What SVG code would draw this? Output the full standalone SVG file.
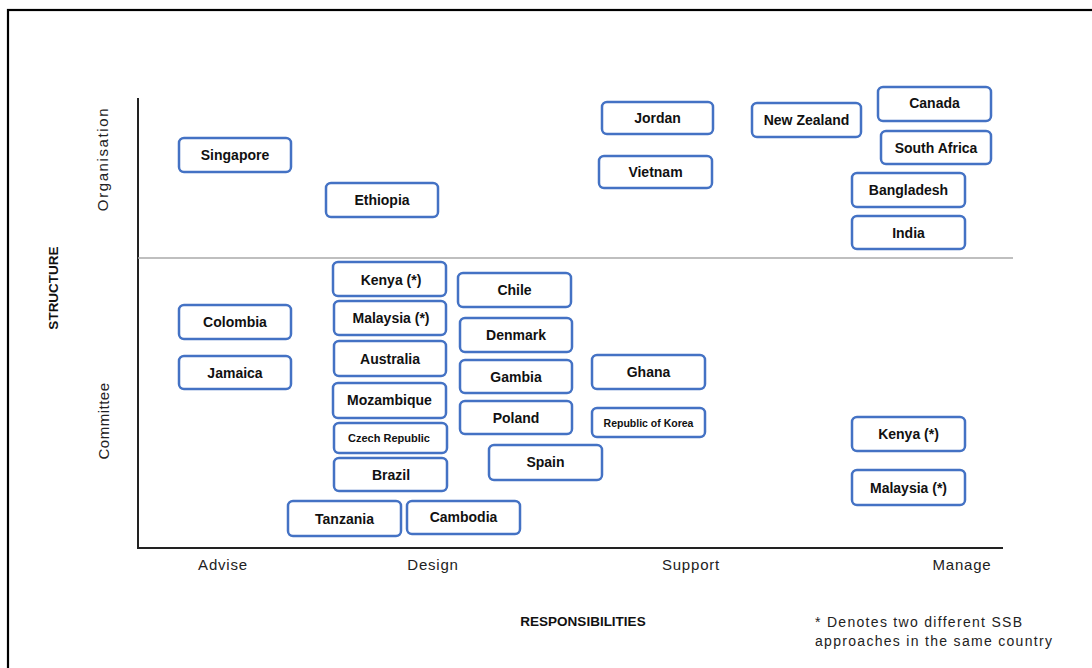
<svg xmlns="http://www.w3.org/2000/svg" width="1092" height="668" viewBox="0 0 1092 668">
<style>
.bx rect{fill:#fff;stroke:#4472C4;stroke-width:2.5}
.bx text{font-family:"Liberation Sans",Arial,sans-serif;font-weight:bold;font-size:14px;fill:#111;text-anchor:middle;dominant-baseline:central}
.bx text.sm{font-size:10.5px}
.ax{font-family:"Liberation Sans",Arial,sans-serif;font-size:15px;fill:#222;letter-spacing:0.8px}
.ttl{font-family:"Liberation Sans",Arial,sans-serif;font-weight:bold;font-size:13.5px;fill:#111}
.note{font-family:"Liberation Sans",Arial,sans-serif;font-size:14px;fill:#222;letter-spacing:1.3px}
</style>
<rect x="0" y="0" width="1092" height="668" fill="#fff"/>
<rect x="8" y="10" width="1110" height="700" fill="none" stroke="#000" stroke-width="2.2"/>
<g id="axes">
<line x1="138" y1="98" x2="138" y2="548" stroke="#222" stroke-width="2"/>
<line x1="137" y1="548" x2="1003" y2="548" stroke="#222" stroke-width="2"/>
<line x1="138" y1="258" x2="1013" y2="258" stroke="#aaa" stroke-width="1.3"/>
</g>
<g id="labels">
<text class="ax" transform="translate(108,159) rotate(-90)" text-anchor="middle" style="letter-spacing:1.6px">Organisation</text>
<text class="ax" transform="translate(109,421) rotate(-90)" text-anchor="middle" style="letter-spacing:0.5px">Committee</text>
<text class="ttl" transform="translate(58,288) rotate(-90)" text-anchor="middle">STRUCTURE</text>
<text class="ax" x="223" y="570" text-anchor="middle">Advise</text>
<text class="ax" x="433" y="570" text-anchor="middle">Design</text>
<text class="ax" x="691" y="570" text-anchor="middle">Support</text>
<text class="ax" x="962" y="570" text-anchor="middle">Manage</text>
<text class="ttl" x="583" y="626" text-anchor="middle">RESPONSIBILITIES</text>
<text class="note" x="815" y="627">* Denotes two different SSB</text>
<text class="note" x="815" y="646">approaches in the same country</text>
</g>
<g id="connectors"></g>
<g id="n-singapore" class="bx"><rect x="179" y="138" width="112" height="34" rx="5"/><text x="235" y="155">Singapore</text></g>
<g id="n-ethiopia" class="bx"><rect x="326" y="183" width="112" height="34" rx="5"/><text x="382" y="200">Ethiopia</text></g>
<g id="n-jordan" class="bx"><rect x="602" y="102" width="111" height="32" rx="5"/><text x="657.5" y="118">Jordan</text></g>
<g id="n-vietnam" class="bx"><rect x="599" y="156" width="113" height="32" rx="5"/><text x="655.5" y="172">Vietnam</text></g>
<g id="n-newzealand" class="bx"><rect x="752" y="103" width="109" height="34" rx="5"/><text x="806.5" y="120">New Zealand</text></g>
<g id="n-canada" class="bx"><rect x="878" y="87" width="113" height="34" rx="5"/><text x="934.5" y="103">Canada</text></g>
<g id="n-southafrica" class="bx"><rect x="881" y="131" width="110" height="33" rx="5"/><text x="936" y="148">South Africa</text></g>
<g id="n-bangladesh" class="bx"><rect x="852" y="173" width="113" height="34" rx="5"/><text x="908.5" y="190">Bangladesh</text></g>
<g id="n-india" class="bx"><rect x="852" y="216" width="113" height="33" rx="5"/><text x="908.5" y="233">India</text></g>
<g id="n-colombia" class="bx"><rect x="179" y="305" width="112" height="34" rx="5"/><text x="235" y="322">Colombia</text></g>
<g id="n-jamaica" class="bx"><rect x="179" y="356" width="112" height="33" rx="5"/><text x="235" y="372.5">Jamaica</text></g>
<g id="n-kenya1" class="bx"><rect x="333" y="262" width="113" height="34" rx="5"/><text x="391" y="280">Kenya (*)</text></g>
<g id="n-malaysia1" class="bx"><rect x="334" y="301" width="112" height="34" rx="5"/><text x="391" y="318">Malaysia (*)</text></g>
<g id="n-australia" class="bx"><rect x="334" y="341" width="112" height="35" rx="5"/><text x="390" y="359">Australia</text></g>
<g id="n-mozambique" class="bx"><rect x="333" y="383" width="113" height="35" rx="5"/><text x="389.5" y="400">Mozambique</text></g>
<g id="n-czech" class="bx"><rect x="334" y="423" width="113" height="30" rx="5"/><text class="sm" x="389" y="438" style="font-size:11px">Czech Republic</text></g>
<g id="n-brazil" class="bx"><rect x="334" y="458" width="113" height="33" rx="5"/><text x="391" y="475">Brazil</text></g>
<g id="n-tanzania" class="bx"><rect x="288" y="501" width="113" height="35" rx="5"/><text x="344.5" y="519">Tanzania</text></g>
<g id="n-cambodia" class="bx"><rect x="407" y="501" width="113" height="33" rx="5"/><text x="463.5" y="517">Cambodia</text></g>
<g id="n-chile" class="bx"><rect x="458" y="273" width="113" height="34" rx="5"/><text x="514.5" y="290">Chile</text></g>
<g id="n-denmark" class="bx"><rect x="460" y="318" width="112" height="34" rx="5"/><text x="516" y="335">Denmark</text></g>
<g id="n-gambia" class="bx"><rect x="460" y="360" width="112" height="33" rx="5"/><text x="516" y="376.5">Gambia</text></g>
<g id="n-poland" class="bx"><rect x="460" y="401" width="112" height="33" rx="5"/><text x="516" y="417.5">Poland</text></g>
<g id="n-spain" class="bx"><rect x="489" y="445" width="113" height="35" rx="5"/><text x="545.5" y="462">Spain</text></g>
<g id="n-ghana" class="bx"><rect x="592" y="355" width="113" height="34" rx="5"/><text x="648.5" y="372">Ghana</text></g>
<g id="n-korea" class="bx"><rect x="592" y="408" width="113" height="29" rx="5"/><text class="sm" x="648.5" y="422.5">Republic of Korea</text></g>
<g id="n-kenya2" class="bx"><rect x="852" y="417" width="113" height="34" rx="5"/><text x="908.5" y="434">Kenya (*)</text></g>
<g id="n-malaysia2" class="bx"><rect x="852" y="470" width="113" height="35" rx="5"/><text x="908.5" y="488">Malaysia (*)</text></g>
</svg>
